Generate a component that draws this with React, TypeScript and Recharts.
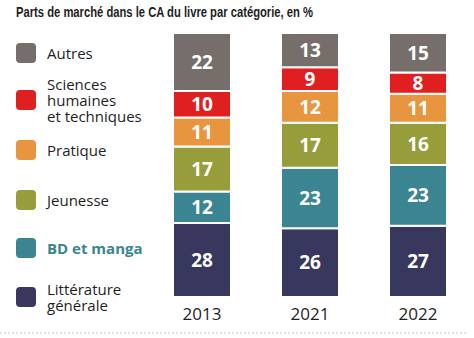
import React from 'react';
import { BarChart, Bar, XAxis, YAxis, LabelList, Customized } from 'recharts';

const years = ['2013', '2021', '2022'];
const litterature = [28, 26, 27];
const bdManga = [12, 23, 23];
const jeunesse = [17, 17, 16];
const pratique = [11, 12, 11];
const sciences = [10, 9, 8];
const autres = [22, 13, 15];

const title = 'Parts de marché dans le CA du livre par catégorie, en %';

const series = [
  { key: 'litterature', name: 'Littérature générale', lines: ['Littérature', 'générale'], color: '#38385f', values: litterature },
  { key: 'bd', name: 'BD et manga', lines: ['BD et manga'], color: '#3a8591', values: bdManga },
  { key: 'jeunesse', name: 'Jeunesse', lines: ['Jeunesse'], color: '#979d3b', values: jeunesse },
  { key: 'pratique', name: 'Pratique', lines: ['Pratique'], color: '#e8953f', values: pratique },
  { key: 'sciences', name: 'Sciences humaines et techniques', lines: ['Sciences', 'humaines', 'et techniques'], color: '#e01f20', values: sciences },
  { key: 'autres', name: 'Autres', lines: ['Autres'], color: '#766e6a', values: autres },
];

const data = years.map((y, i) => {
  const row: Record<string, string | number> = { year: y };
  series.forEach((s) => { row[s.key] = s.values[i]; });
  return row;
});

const legendCenters: Record<string, number> = {
  autres: 53, sciences: 100, pratique: 150, jeunesse: 200, bd: 248, litterature: 297,
};

const LegendBox = () => {
  const items = [...series].reverse();
  return (
    <svg width={160} height={338} style={{ position: 'absolute', left: 0, top: 0, overflow: 'visible' }}>
      {items.map((s) => {
        const cy = legendCenters[s.key];
        const lh = 16;
        const n = s.lines.length;
        const bold = s.key === 'bd';
        return (
          <g key={s.key}>
            <rect x={16} y={cy - 10} width={20} height={20} rx={4} fill={s.color} />
            {s.lines.map((ln, j) => (
              <text
                key={j}
                x={47}
                y={cy + (j - (n - 1) / 2) * lh}
                dominantBaseline="central"
                fontFamily="'Open Sans', sans-serif"
                fontSize={15}
                fontWeight={bold ? 700 : 400}
                fill={bold ? '#3a8591' : '#1e1e1e'}
              >
                {ln}
              </text>
            ))}
          </g>
        );
      })}
    </svg>
  );
};

const Extras = () => (
  <g>
    <text x={16} y={17} textLength={297} lengthAdjust="spacingAndGlyphs" fontFamily="'Liberation Sans', Arial, sans-serif" fontWeight={700} fontSize={14} fill="#1e1e1e">
      {title}
    </text>
    <line x1={0} y1={333} x2={467} y2={333} stroke="#c4c4c4" strokeWidth={1} strokeDasharray="2 2" />
  </g>
);

export default function App() {
  return (
    <div style={{ position: 'absolute', left: 0, top: 0, width: 474, height: 338, background: '#fff' }}>
      <BarChart width={474} height={338} data={data} margin={{ top: 33, right: 2, bottom: 0, left: 148 }} barCategoryGap={0}>
        <XAxis
          dataKey="year"
          axisLine={false}
          tickLine={false}
          height={41}
          tickMargin={5}
          tick={{ fontFamily: "'Open Sans', sans-serif", fontSize: 17, fill: '#1e1e1e' }}
        />
        <YAxis hide domain={[0, 100]} />
        {series.map((s) => (
          <Bar key={s.key} dataKey={s.key} name={s.name} stackId="a" fill={s.color} stroke="#ffffff" strokeWidth={2} barSize={58} isAnimationActive={false}>
            <LabelList dataKey={s.key} position="center" fill="#ffffff" fontFamily="'Open Sans', sans-serif" fontWeight={700} fontSize={19} />
          </Bar>
        ))}
        <Customized component={Extras} />
      </BarChart>
      <LegendBox />
    </div>
  );
}
